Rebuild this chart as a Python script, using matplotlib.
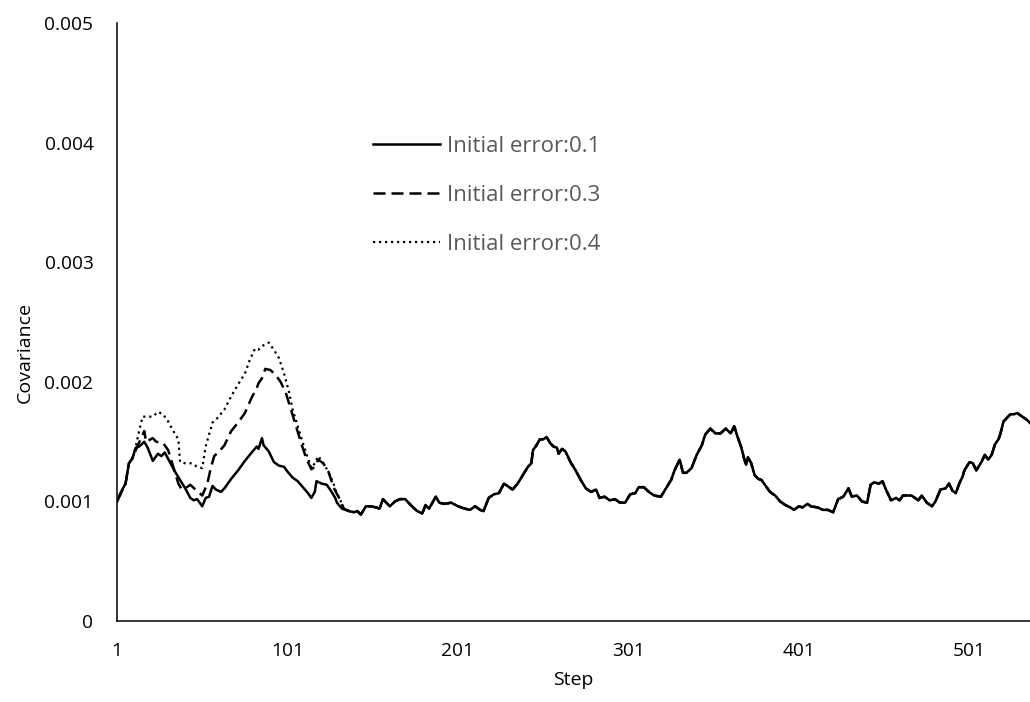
import matplotlib
matplotlib.use("Agg")
import matplotlib.pyplot as plt

plt.rcParams['font.family'] = ['Open Sans', 'DejaVu Sans']

# Covariance (x 1e-3) per filter step, initial error 0.1
steps_01 = [1, 3, 6, 8, 10, 12, 14, 17, 19, 22, 25, 27, 29, 32, 35, 38, 41, 44, 46, 48,
            51, 53, 55, 57, 59, 62, 64, 68, 72, 76, 80, 83, 84, 86, 87, 90, 93, 96, 99, 101,
            104, 107, 110, 113, 115, 117, 118, 121, 124, 126, 129, 130, 133, 137, 140, 142, 144, 147, 150, 153,
            155, 157, 159, 161, 164, 167, 170, 174, 177, 180, 182, 184, 188, 190, 193, 197, 201, 205, 208, 211,
            214, 216, 219, 222, 225, 228, 230, 233, 236, 239, 242, 244, 245, 247, 249, 251, 253, 255, 257, 259,
            260, 262, 264, 267, 270, 273, 276, 279, 282, 284, 287, 290, 293, 296, 299, 302, 305, 307, 310, 313,
            316, 320, 323, 326, 328, 331, 333, 335, 338, 341, 344, 346, 349, 352, 355, 358, 361, 363, 365, 367,
            369, 370, 371, 373, 375, 377, 379, 381, 384, 387, 390, 393, 396, 398, 401, 403, 406, 408, 412, 415,
            418, 421, 424, 427, 430, 432, 435, 438, 441, 443, 445, 448, 450, 452, 455, 458, 460, 462, 464, 467,
            469, 471, 473, 476, 479, 481, 484, 487, 489, 491, 493, 495, 497, 498, 501, 503, 505, 508, 510, 512,
            514, 516, 518, 519, 521, 523, 525, 527, 529, 531, 533, 535, 537]
cov_01 = [1.00, 1.07, 1.15, 1.32, 1.36, 1.45, 1.46, 1.50, 1.45, 1.34, 1.40, 1.38, 1.41, 1.33, 1.25, 1.18, 1.11, 1.03, 1.01, 1.02,
          0.96, 1.03, 1.04, 1.13, 1.10, 1.08, 1.11, 1.19, 1.26, 1.34, 1.41, 1.46, 1.44, 1.53, 1.47, 1.42, 1.33, 1.30, 1.29, 1.25,
          1.20, 1.17, 1.12, 1.07, 1.03, 1.08, 1.17, 1.15, 1.14, 1.10, 1.03, 0.99, 0.94, 0.92, 0.91, 0.92, 0.89, 0.96, 0.96, 0.95,
          0.94, 1.02, 0.99, 0.96, 1.00, 1.02, 1.02, 0.96, 0.92, 0.90, 0.97, 0.94, 1.04, 0.99, 0.98, 0.99, 0.96, 0.94, 0.93, 0.96,
          0.93, 0.92, 1.03, 1.06, 1.07, 1.15, 1.13, 1.10, 1.15, 1.22, 1.29, 1.32, 1.43, 1.47, 1.52, 1.52, 1.54, 1.49, 1.46, 1.45,
          1.40, 1.44, 1.42, 1.33, 1.26, 1.18, 1.11, 1.08, 1.10, 1.03, 1.04, 1.01, 1.02, 0.99, 0.99, 1.06, 1.07, 1.12, 1.12, 1.08,
          1.05, 1.04, 1.11, 1.18, 1.26, 1.35, 1.24, 1.24, 1.28, 1.39, 1.47, 1.56, 1.61, 1.57, 1.57, 1.61, 1.57, 1.63, 1.54, 1.46,
          1.35, 1.31, 1.37, 1.32, 1.22, 1.19, 1.18, 1.14, 1.08, 1.05, 1.00, 0.97, 0.95, 0.93, 0.96, 0.95, 0.98, 0.96, 0.95, 0.93,
          0.93, 0.91, 1.02, 1.04, 1.11, 1.04, 1.05, 1.00, 0.99, 1.14, 1.16, 1.15, 1.17, 1.10, 1.01, 1.03, 1.01, 1.05, 1.05, 1.05,
          1.03, 1.01, 1.05, 0.99, 0.96, 1.00, 1.10, 1.11, 1.15, 1.09, 1.07, 1.15, 1.21, 1.26, 1.33, 1.32, 1.26, 1.33, 1.39, 1.35,
          1.39, 1.48, 1.52, 1.56, 1.67, 1.70, 1.73, 1.73, 1.74, 1.72, 1.70, 1.68, 1.65]

# Initial error 0.3, up to the point where it joins the 0.1 run
steps_03_head = [1, 6, 8, 10, 12, 17, 18, 22, 24, 28, 31, 34, 37, 39, 41, 44, 47, 51, 54, 56,
                 58, 61, 64, 68, 72, 76, 80, 83, 84, 86, 88, 91, 94, 97, 100, 103, 106, 109, 112, 115,
                 117, 119, 122, 125, 128, 129, 132, 134, 137]
cov_03_head = [1.00, 1.15, 1.32, 1.36, 1.43, 1.59, 1.50, 1.53, 1.50, 1.49, 1.43, 1.29, 1.15, 1.10, 1.11, 1.14, 1.10, 1.05, 1.15, 1.28,
               1.38, 1.42, 1.47, 1.59, 1.66, 1.74, 1.87, 1.95, 1.99, 2.03, 2.11, 2.10, 2.06, 2.00, 1.91, 1.77, 1.63, 1.49, 1.36, 1.27,
               1.29, 1.35, 1.32, 1.25, 1.12, 1.09, 1.01, 0.94, 0.92]

# Initial error 0.4, up to the point where it joins the 0.1 run
steps_04_head = [1, 6, 8, 10, 12, 14, 16, 19, 22, 25, 28, 31, 34, 37, 38, 41, 45, 48, 51, 53,
                 57, 60, 64, 68, 72, 76, 79, 82, 84, 86, 90, 93, 96, 99, 102, 104, 107, 110, 113, 115,
                 117, 119, 122, 125, 128, 129, 132, 134, 137]
cov_04_head = [1.00, 1.15, 1.32, 1.36, 1.46, 1.59, 1.71, 1.71, 1.71, 1.75, 1.73, 1.67, 1.59, 1.52, 1.33, 1.32, 1.32, 1.29, 1.28, 1.46,
               1.66, 1.70, 1.77, 1.88, 1.98, 2.07, 2.19, 2.28, 2.27, 2.30, 2.33, 2.27, 2.20, 2.07, 1.91, 1.77, 1.63, 1.49, 1.36, 1.28,
               1.32, 1.38, 1.32, 1.25, 1.15, 1.10, 1.01, 0.94, 0.92]

x_ticks = [1, 101, 201, 301, 401, 501]
y_ticks = [0, 0.001, 0.002, 0.003, 0.004, 0.005]
y_tick_labels = ['0', '0.001', '0.002', '0.003', '0.004', '0.005']
series_labels = ['Initial error:0.1', 'Initial error:0.3', 'Initial error:0.4']

# after the early transient all three runs share the same trajectory
join = steps_03_head[-1]
tail_steps = [s for s in steps_01 if s > join]
tail_cov = [v for s, v in zip(steps_01, cov_01) if s > join]
steps_03 = steps_03_head + tail_steps
cov_03 = cov_03_head + tail_cov
steps_04 = steps_04_head + tail_steps
cov_04 = cov_04_head + tail_cov

scale = 1e-3
W, H = 1030, 702
fig = plt.figure(figsize=(W / 100, H / 100), dpi=100)
ax = fig.add_axes([117 / W, 81 / H, 913 / W, 597.5 / H])

ax.plot(steps_01, [v * scale for v in cov_01], color='black', lw=1.8,
        solid_joinstyle='round', label=series_labels[0])
ax.plot(steps_03, [v * scale for v in cov_03], color='black', lw=1.8,
        linestyle=(0, (4.8, 2.4)), dash_capstyle='butt', label=series_labels[1])
ax.plot(steps_04, [v * scale for v in cov_04], color='black', lw=1.6,
        linestyle=(0, (1.0, 1.7)), dash_capstyle='butt', label=series_labels[2])

ax.set_xlim(1, 536.5)
ax.set_ylim(0, 0.005)
ax.set_xticks(x_ticks)
ax.set_xticklabels([str(t) for t in x_ticks])
ax.set_yticks(y_ticks)
ax.set_yticklabels(y_tick_labels)
ax.tick_params(axis='both', length=0, labelsize=13.8, colors='black')
ax.tick_params(axis='y', pad=17)
ax.tick_params(axis='x', pad=15)

for side in ('top', 'right'):
    ax.spines[side].set_visible(False)
for side in ('left', 'bottom'):
    ax.spines[side].set_linewidth(1.1)
    ax.spines[side].set_color('black')

ax.set_xlabel('Step', fontsize=14, va='center')
ax.xaxis.set_label_coords(0.5, (621 - 680) / 597.5)
ax.set_ylabel('Covariance', fontsize=14, va='center')
ax.yaxis.set_label_coords((25 - 117) / 913, 0.45)

leg = ax.legend(loc='center left', bbox_to_anchor=(373, H - 195.5),
                bbox_transform=None, frameon=False, fontsize=16,
                handlelength=3.0, handletextpad=0.35, labelspacing=1.25,
                borderpad=0, borderaxespad=0, labelcolor='#595959')
leg.set_bbox_to_anchor((373 / W, (H - 195.5) / H), transform=fig.transFigure)

fig.savefig('out.png', dpi=100)
